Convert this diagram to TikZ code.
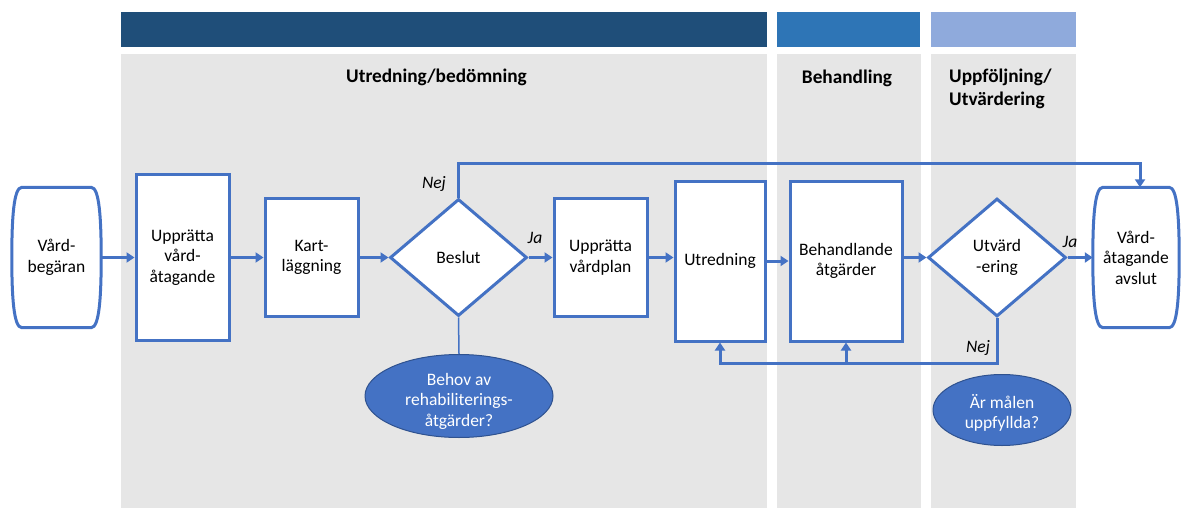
\documentclass[tikz,border=0pt]{standalone}
\usepackage{fontspec}
\setmainfont{Carlito}
\usetikzlibrary{shapes.geometric,arrows.meta,calc}
\definecolor{lb}{HTML}{4472C4}
\definecolor{ellb}{HTML}{2F528F}
\definecolor{darkbar}{HTML}{1F4E79}
\definecolor{midbar}{HTML}{2E75B6}
\definecolor{lightbar}{HTML}{8FAADC}
\definecolor{panel}{HTML}{E6E6E6}
\pgfdeclarelayer{back}
\pgfdeclarelayer{mid}
\pgfsetlayers{back,mid,main}
\newcommand{\termshape}[1]{%
  \draw[draw=lb,line width=3pt,fill=white]
    ($(#1.north west)+(10,0)$) -- ($(#1.north east)+(-10,0)$)
    .. controls ($(#1.north east)+(-2,0)$) and ($(#1.north east)+(0,30)$) .. (#1.east)
    .. controls ($(#1.south east)+(0,-30)$) and ($(#1.south east)+(-2,0)$) .. ($(#1.south east)+(-10,0)$)
    -- ($(#1.south west)+(10,0)$)
    .. controls ($(#1.south west)+(2,0)$) and ($(#1.south west)+(0,-30)$) .. (#1.west)
    .. controls ($(#1.north west)+(0,30)$) and ($(#1.north west)+(2,0)$) .. cycle;}
\begin{document}
\begin{tikzpicture}[x=1pt,y=-1pt,
  txt/.style={font=\fontsize{17.5}{20.5}\selectfont},
  box/.style={txt,draw=lb,line width=3pt,fill=white,inner sep=0pt,align=center},
  term/.style={txt,inner sep=0pt,align=center},
  dia/.style={txt,diamond,draw=lb,line width=3pt,fill=white,inner sep=0pt,align=center},
  ell/.style={ellipse,draw=ellb,line width=1pt,fill=lb,inner sep=0pt},
  elltxt/.style={txt,text=white,inner sep=0pt,align=center},
  lab/.style={font=\itshape\fontsize{17.5}{20}\selectfont,inner sep=0pt},
  head/.style={font=\bfseries\fontsize{19.3}{23}\selectfont,inner sep=0pt,align=left},
  conn/.style={draw=lb,line width=3pt,-{Triangle[length=8pt,width=10pt]}},
  plain/.style={draw=lb,line width=1.5pt}]
\useasboundingbox (0,0) rectangle (1185,508);
\begin{pgfonlayer}{back}
\fill[darkbar] (121,12) rectangle (767,47);
\fill[midbar] (777,12) rectangle (920,47);
\fill[lightbar] (931,12) rectangle (1076,47);
\fill[panel] (121,54) rectangle (767,508);
\fill[panel] (777,54) rectangle (921,508);
\fill[panel] (931,54) rectangle (1076,508);
\end{pgfonlayer}

\node[head] (h1) at (436.5,77) {Utredning/bedömning};
\node[head] (h2) at (847,78) {Behandling};
\node[head,anchor=west] (h3) at (949,89) {Uppföljning/\\Utvärdering};

\node[term,minimum width=89pt,minimum height=140pt] (vb) at (56.5,257.5) {Vård-\\begäran};
\node[term,minimum width=86pt,minimum height=140pt] (av) at (1136,257.5) {Vård-\\åtagande\\avslut};
\begin{pgfonlayer}{mid}
\termshape{vb}
\termshape{av}
\end{pgfonlayer}

\node[box,minimum width=93pt,minimum height=166pt] (upv) at (182.5,257.5) {Upprätta\\vård-\\åtagande};
\node[box,minimum width=93pt,minimum height=118pt] (kart) at (311.5,257.5) {Kart-\\läggning};
\node[dia,minimum width=137pt,minimum height=117pt] (bes) at (458.5,257.5) {Beslut};
\node[box,minimum width=93pt,minimum height=118pt] (vp) at (600.5,257.5) {Upprätta\\vårdplan};
\node[box,minimum width=90pt,minimum height=160pt] (ut) at (720,261) {Utredning};
\node[box,minimum width=112pt,minimum height=160pt] (beh) at (846,261) {Behandlande\\åtgärder};
\node[dia,minimum width=138pt,minimum height=118pt] (utv) at (997,257.5) {Utvärd\\-ering};

\node[ell,minimum width=188pt,minimum height=83pt] (behov) at (459,396) {};
\node[elltxt] (behovtxt) at (459,401) {Behov av\\rehabiliterings-\\åtgärder?};
\node[ell,minimum width=138pt,minimum height=71pt] (mal) at (1002,410) {};
\node[elltxt] (maltxt) at (1002,413) {Är målen\\uppfyllda?};

\node[lab] (nej1) at (434,184) {Nej};
\node[lab] (ja1) at (535,238) {Ja};
\node[lab] (ja2) at (1070,242) {Ja};
\node[lab] (nej2) at (978,348) {Nej};

\draw[conn] (vb.east) -- (vb.east -| upv.west);
\draw[conn] (upv.east |- kart.west) -- (kart.west);
\draw[conn] (kart.east) -- (bes.west);
\draw[conn] (bes.east) -- (vp.west);
\draw[conn] (vp.east) -- (vp.east -| ut.west);
\draw[conn] (ut.east) -- (beh.west);
\draw[conn] (beh.east |- utv.west) -- (utv.west);
\draw[conn] (utv.east) -- (utv.east -| av.west);

\coordinate (topr) at (1140,163);
\draw[conn] (bes.north) |- (topr) -- (topr |- av.north);

\coordinate (loop) at (846,363);
\draw[conn] (utv.south) |- (loop) -| (ut.south);
\draw[conn] (loop) -- (beh.south);

\draw[plain] (bes.south) -- (behov.north);
\end{tikzpicture}
\end{document}
